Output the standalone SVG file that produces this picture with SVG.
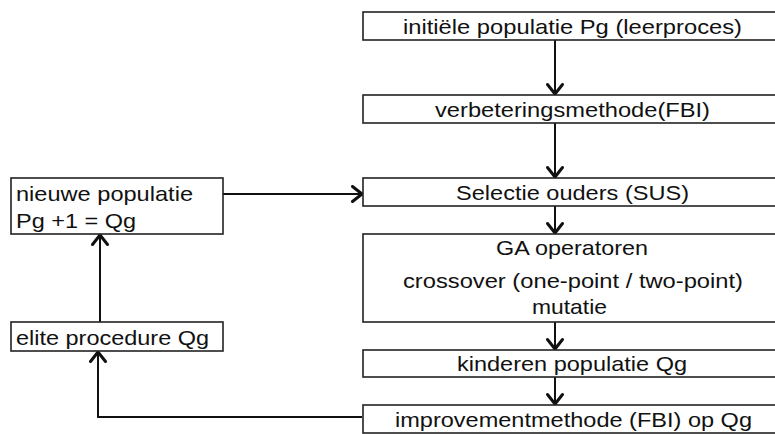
<svg xmlns="http://www.w3.org/2000/svg" width="775" height="434" viewBox="0 0 775 434">
<style>
.box{fill:#fff;stroke:#222;stroke-width:1.6}
.t{font-family:"Liberation Sans",Arial,sans-serif;font-size:21px;fill:#111}
.c{text-anchor:middle}
.con{fill:none;stroke:#111;stroke-width:2}
</style>
<defs>
<marker id="ah" markerWidth="20" markerHeight="20" refX="12" refY="9.5" orient="auto" markerUnits="userSpaceOnUse">
<path d="M2.5,2 L12,9.5 L2.5,17" fill="none" stroke="#111" stroke-width="3" stroke-linecap="round" stroke-linejoin="round"/>
</marker>
</defs>
<rect width="775" height="434" fill="#fff"/>
<g id="connectors">
<line class="con" x1="555" y1="40" x2="555" y2="94" marker-end="url(#ah)"/>
<line class="con" x1="555" y1="123" x2="555" y2="177" marker-end="url(#ah)"/>
<line class="con" x1="555" y1="206" x2="555" y2="233" marker-end="url(#ah)"/>
<line class="con" x1="555" y1="322" x2="555" y2="349" marker-end="url(#ah)"/>
<line class="con" x1="555" y1="377" x2="555" y2="404" marker-end="url(#ah)"/>
<line class="con" x1="223" y1="194" x2="362" y2="194" marker-end="url(#ah)"/>
<line class="con" x1="100" y1="322" x2="100" y2="235" marker-end="url(#ah)"/>
<polyline class="con" points="362,417 98,417 98,352" marker-end="url(#ah)"/>
</g>
<g id="n1"><rect class="box" x="363" y="12" width="420" height="28"/><text class="t c" x="572.5" y="34" textLength="339" lengthAdjust="spacingAndGlyphs">initiële populatie Pg (leerproces)</text></g>
<g id="n2"><rect class="box" x="363" y="95" width="420" height="28"/><text class="t c" x="572.5" y="117" textLength="275" lengthAdjust="spacingAndGlyphs">verbeteringsmethode(FBI)</text></g>
<g id="n3"><rect class="box" x="363" y="178" width="420" height="28"/><text class="t c" x="572.5" y="200" textLength="233" lengthAdjust="spacingAndGlyphs">Selectie ouders (SUS)</text></g>
<g id="n4"><rect class="box" x="363" y="234" width="420" height="88"/><text class="t c" x="572" y="255" textLength="152" lengthAdjust="spacingAndGlyphs">GA operatoren</text><text class="t c" x="573" y="288" textLength="340" lengthAdjust="spacingAndGlyphs">crossover (one-point / two-point)</text><text class="t c" x="569.5" y="314" textLength="75" lengthAdjust="spacingAndGlyphs">mutatie</text></g>
<g id="n5"><rect class="box" x="363" y="350" width="420" height="27"/><text class="t c" x="572" y="371" textLength="230" lengthAdjust="spacingAndGlyphs">kinderen populatie Qg</text></g>
<g id="n6"><rect class="box" x="363" y="405" width="420" height="28"/><text class="t c" x="573.5" y="427" textLength="357" lengthAdjust="spacingAndGlyphs">improvementmethode (FBI) op Qg</text></g>
<g id="n7"><rect class="box" x="11" y="178" width="212" height="56"/><text class="t" x="16" y="201" textLength="177" lengthAdjust="spacingAndGlyphs">nieuwe populatie</text><text class="t" x="16" y="228" textLength="120" lengthAdjust="spacingAndGlyphs">Pg +1 = Qg</text></g>
<g id="n8"><rect class="box" x="11" y="322" width="212" height="29"/><text class="t" x="16" y="345" textLength="193" lengthAdjust="spacingAndGlyphs">elite procedure Qg</text></g>
</svg>
